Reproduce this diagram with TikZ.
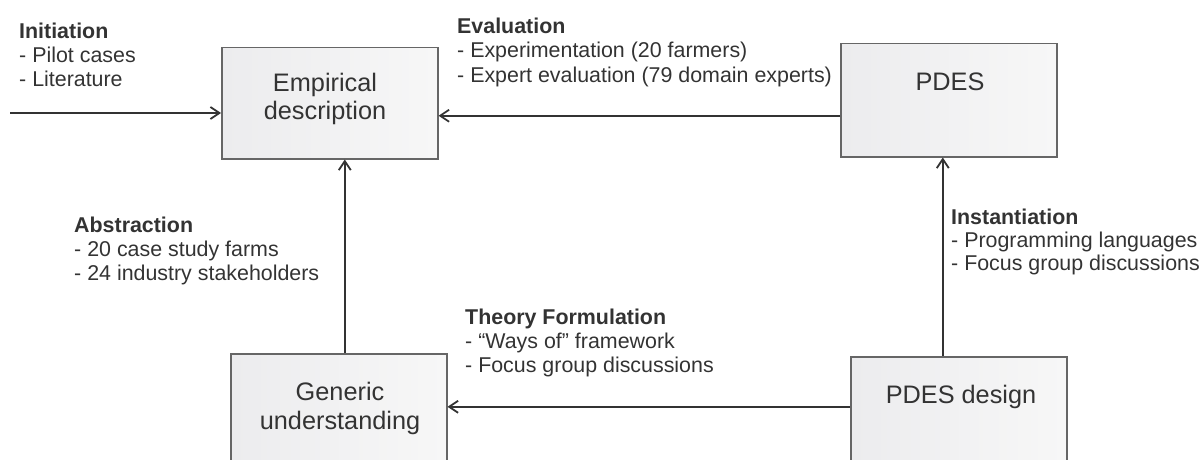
\documentclass[tikz,border=0pt]{standalone}
\usepackage{fontspec}
\setmainfont{Liberation Sans}
\usetikzlibrary{arrows.meta,calc}

\definecolor{ink}{HTML}{333333}
\definecolor{frame}{HTML}{666666}
\definecolor{fillA}{HTML}{ECECEE}
\definecolor{fillB}{HTML}{F7F7F7}

\begin{document}
\begin{tikzpicture}[x=1pt,y=-1pt,
  stage/.style={draw=frame, line width=1.5pt, left color=fillA, right color=fillB,
    minimum width=216pt, minimum height=111pt, inner sep=0pt, anchor=north west},
  stagetext/.style={anchor=base, inner sep=0pt, text=ink,
    font=\fontsize{25.3}{28}\selectfont},
  lbl/.style={anchor=base west, inner sep=0pt, text=ink,
    font=\fontsize{21.4}{24}\selectfont},
  ttl/.style={lbl, font=\fontsize{21.4}{24}\selectfont\bfseries},
  flow/.style={draw=ink, line width=1.9pt,
    -{Straight Barb[length=9pt,width=12pt,line width=1.8pt]}}
]
\useasboundingbox (0,0) rectangle (1203,460);
\clip (0,0) rectangle (1203,460);

% stages of the cycle
\node[stage] (emp) at (221,47) {};
\node[stage, minimum height=113pt] (pdes) at (840,43) {};
\node[stage] (gen) at (230,353) {};
\node[stage] (pdd) at (850,356) {};

\node[stagetext] (empA) at (325,92) {Empirical};
\node[stagetext] (empB) at (325,120) {description};
\node[stagetext] (pdesT) at (950,91) {PDES};
\node[stagetext] (genA) at (340,400) {Generic};
\node[stagetext] (genB) at (340,429) {understanding};
\node[stagetext] (pddT) at (961,403) {PDES design};

% connectors
\coordinate (entry) at (10,113);
\draw[flow] (entry) -- (entry -| emp.west);
\draw[flow] ([yshift=-15.5pt]pdes.west) -- ([yshift=-15.5pt]pdes.west -| emp.east);
\draw[flow] ([xshift=6pt]gen.north) -- ([xshift=6pt]gen.north |- emp.south);
\draw[flow] ([xshift=-16pt]pdd.north) -- ([xshift=-16pt]pdd.north |- pdes.south);
\draw[flow] ([yshift=5.5pt]pdd.west) -- ([yshift=5.5pt]pdd.west -| gen.east);

% activity labels
\node[ttl] (iniT) at (19,39) {Initiation};
\node[lbl] (ini1) at (19,63) {- Pilot cases};
\node[lbl] (ini2) at (19,87) {- Literature};

\node[ttl] (evaT) at (457,34) {Evaluation};
\node[lbl] (eva1) at (457,58) {- Experimentation (20 farmers)};
\node[lbl] (eva2) at (457,82) {- Expert evaluation (79 domain experts)};

\node[ttl] (absT) at (74,232) {Abstraction};
\node[lbl] (abs1) at (74,256) {- 20 case study farms};
\node[lbl] (abs2) at (74,280) {- 24 industry stakeholders};

\node[ttl] (insT) at (951,224) {Instantiation};
\node[lbl] (ins1) at (951,247) {- Programming languages};
\node[lbl] (ins2) at (951,270) {- Focus group discussions};

\node[ttl] (thfT) at (465,324) {Theory Formulation};
\node[lbl] (thf1) at (465,348) {- “Ways of” framework};
\node[lbl] (thf2) at (465,372) {- Focus group discussions};
\end{tikzpicture}
\end{document}
